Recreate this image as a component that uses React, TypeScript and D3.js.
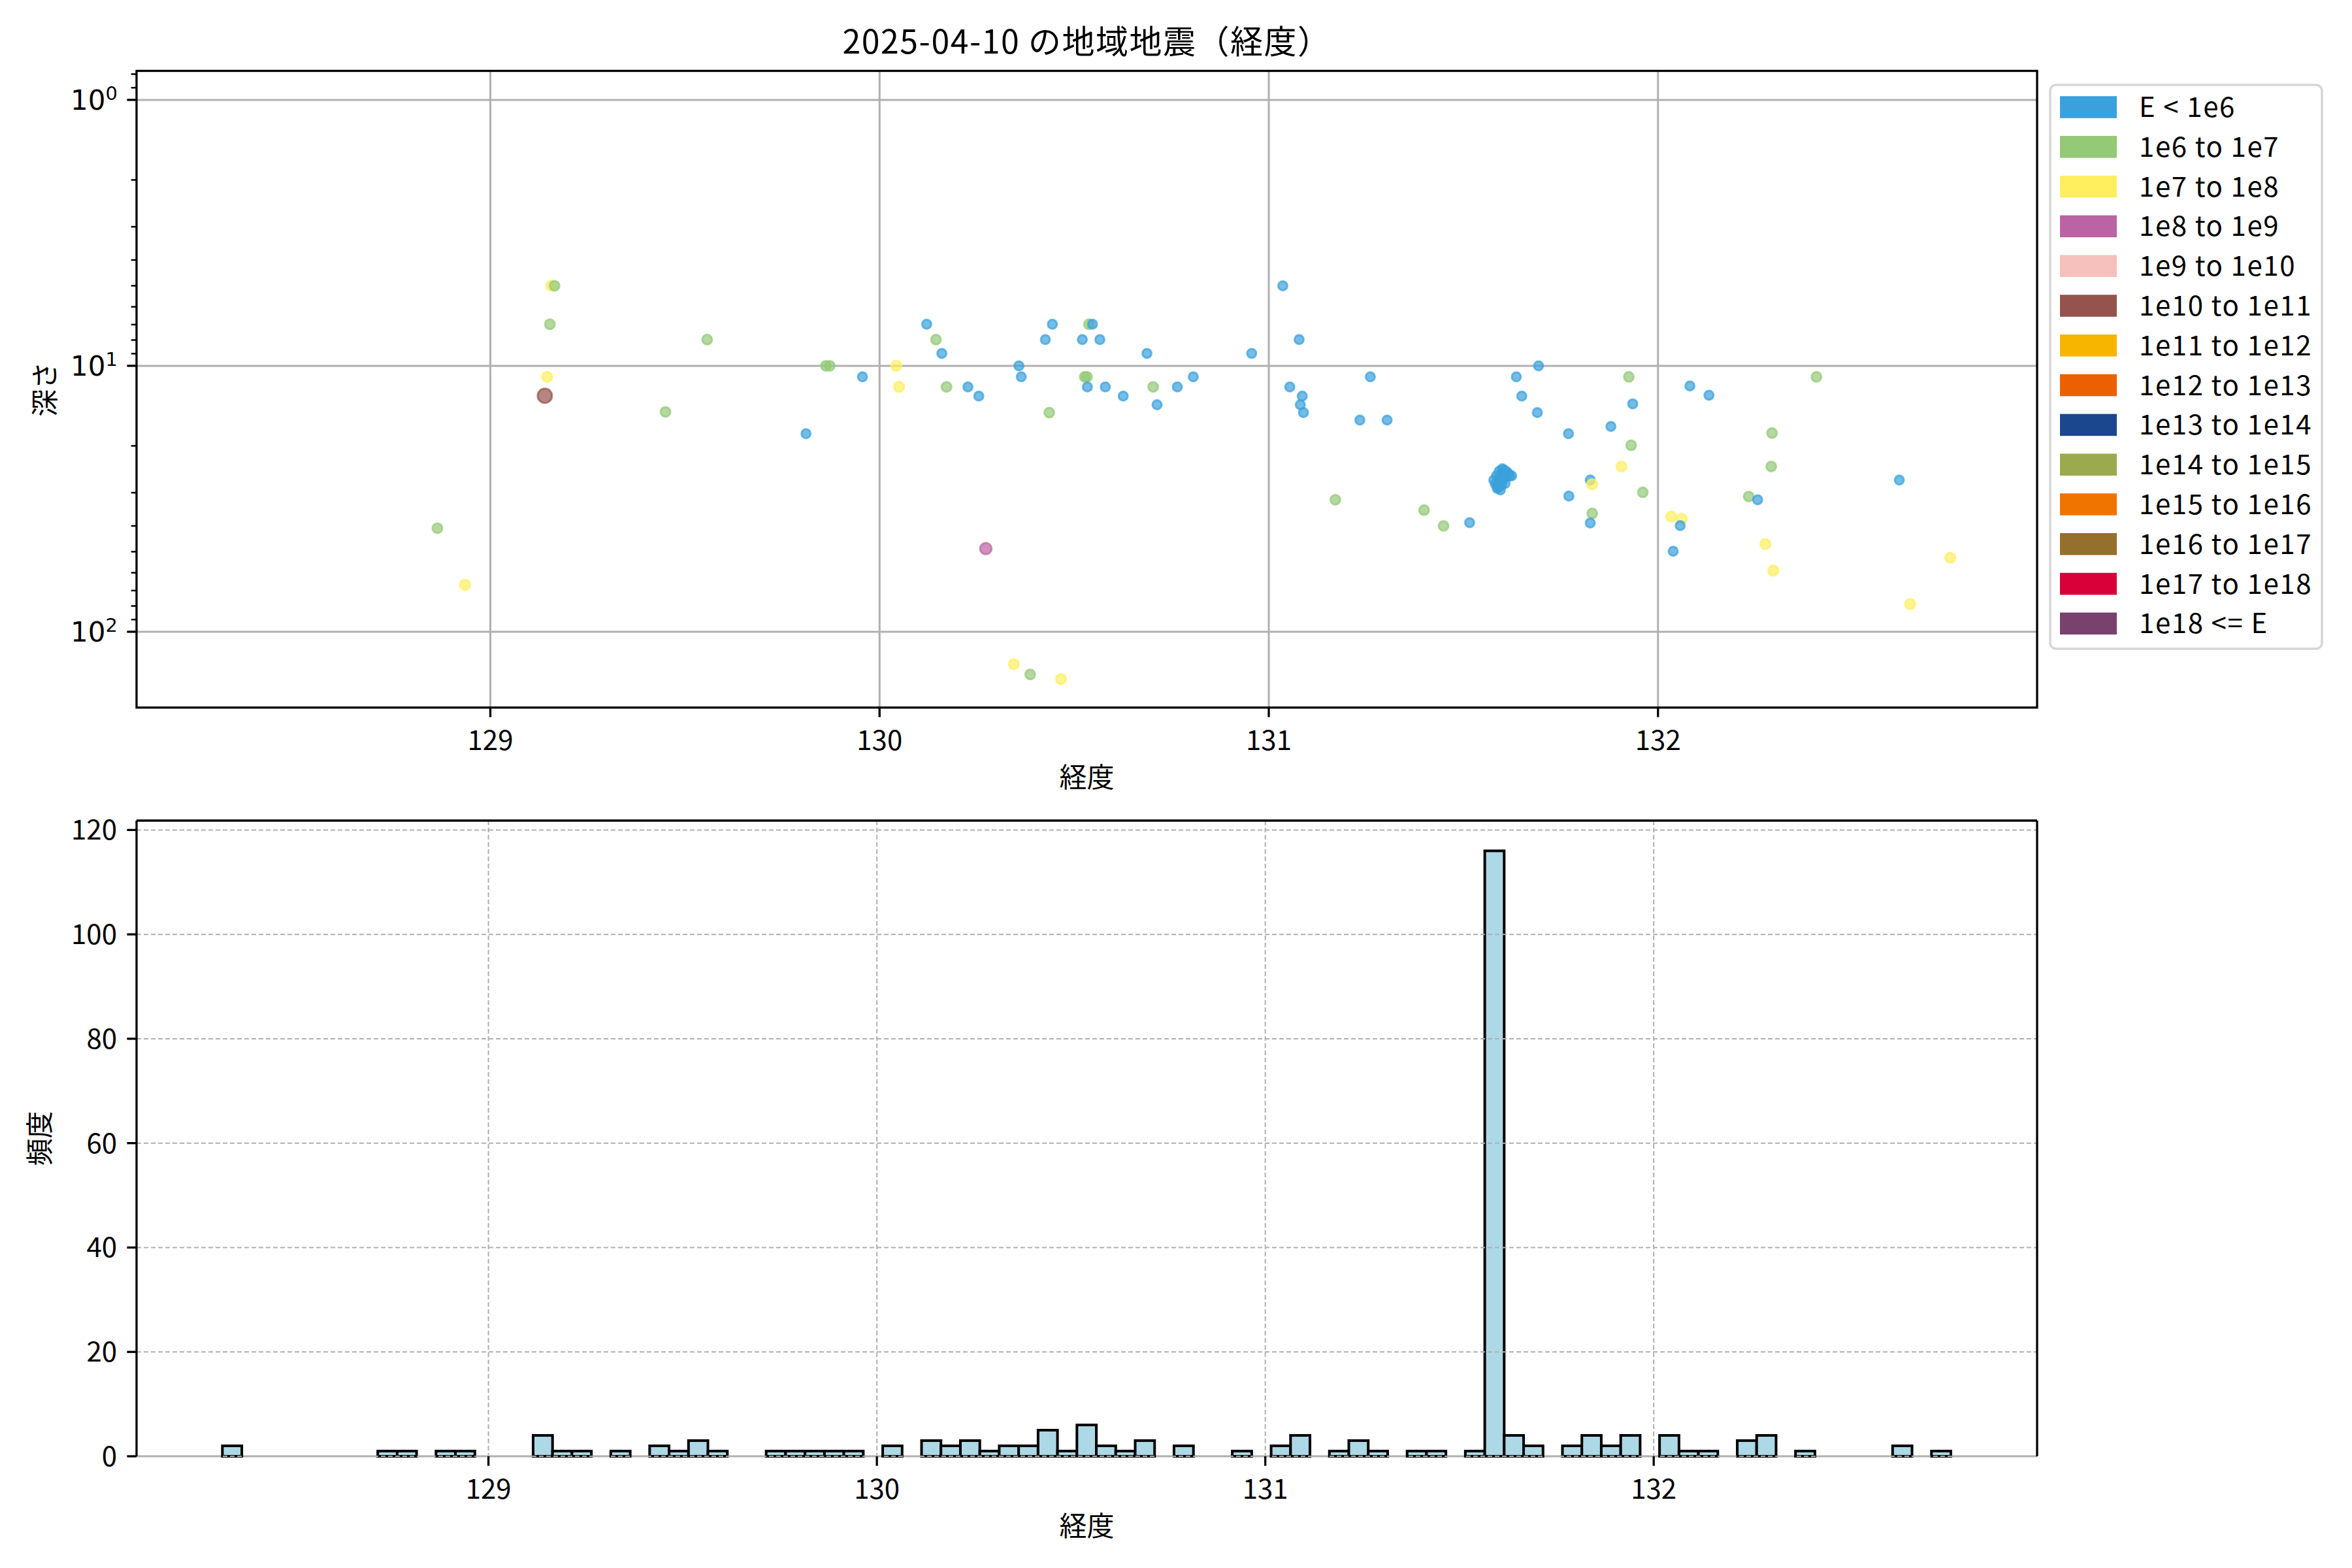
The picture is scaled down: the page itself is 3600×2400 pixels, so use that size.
import React from "react";
import * as d3 from "d3";

// ---------- DATA ----------
const energyLabels = [
  "E < 1e6", "1e6 to 1e7", "1e7 to 1e8", "1e8 to 1e9", "1e9 to 1e10",
  "1e10 to 1e11", "1e11 to 1e12", "1e12 to 1e13", "1e13 to 1e14",
  "1e14 to 1e15", "1e15 to 1e16", "1e16 to 1e17", "1e17 to 1e18", "1e18 <= E",
];
const energyColors = [
  "#3BA1DC", "#94C977", "#FFEF5F", "#BB64A3", "#F6C0BD", "#96524D", "#F7B500",
  "#EB6000", "#1B478E", "#9BAA4E", "#F07500", "#956F2C", "#D9003A", "#79416E",
];

// scatter events: longitude, depth (km), energy class index
const eqLon = [
  128.864, 128.935, 129.146, 129.153, 129.157, 129.165, 129.45, 129.557,
  129.811, 129.862, 129.872, 129.956, 130.043, 130.05, 130.121, 130.145,
  130.16, 130.172, 130.227, 130.255, 130.273, 130.345, 130.358, 130.364,
  130.387, 130.426, 130.436, 130.444, 130.466, 130.521, 130.527, 130.533,
  130.534, 130.538, 130.547, 130.566, 130.58, 130.626, 130.687, 130.703,
  130.713, 130.765, 130.806, 130.956, 131.036, 131.054, 131.078, 131.081,
  131.086, 131.089, 131.171, 131.234, 131.261, 131.304, 131.399, 131.449,
  131.516,
  131.593, 131.596,
  131.578, 131.582, 131.585, 131.588, 131.59, 131.592, 131.594, 131.595,
  131.597, 131.598, 131.6, 131.601, 131.603, 131.604, 131.606, 131.607,
  131.609, 131.611, 131.613, 131.616, 131.619, 131.624, 131.6, 131.587,
  131.636, 131.65, 131.69, 131.693, 131.77, 131.771, 131.826, 131.831,
  131.831, 131.826, 131.879, 131.906, 131.925, 131.935, 131.931, 131.961,
  132.034, 132.061, 132.057, 132.039, 132.082, 132.131, 132.233, 132.256,
  132.293, 132.291, 132.276, 132.296, 132.407, 132.62, 132.648, 132.751,
  129.14,
];
const eqDepth = [
  40.8, 66.6, 11.0, 6.98, 5.0, 5.0, 14.9, 7.97,
  18.0, 10.0, 10.0, 11.0, 10.0, 12.0, 6.98, 7.97,
  8.98, 12.0, 12.0, 13.0, 48.7, 132.5, 10.0, 11.0,
  144.7, 7.97, 15.0, 6.98, 150.5, 7.97, 11.0, 11.0,
  12.0, 6.98, 6.98, 7.97, 12.0, 13.0, 8.98, 12.0,
  14.0, 12.0, 11.0, 8.98, 5.0, 12.0, 7.97, 14.0,
  13.0, 15.0, 31.9, 16.0, 11.0, 16.0, 34.9, 40.0,
  38.9,
  28.4, 27.9,
  26.9, 27.8, 25.9, 28.6, 26.9, 24.9, 27.4, 29.3,
  26.1, 28.1, 25.3, 27.0, 24.6, 26.4, 25.1, 27.7,
  24.9, 25.8, 25.2, 25.5, 26.0, 25.9, 24.4, 28.9,
  11.0, 13.0, 15.0, 10.0, 18.0, 30.9, 26.9, 27.9,
  35.9, 39.0, 16.9, 23.9, 11.0, 13.9, 19.9, 29.9,
  36.9, 37.6, 39.9, 49.8, 11.9, 12.9, 31.0, 31.9,
  17.9, 23.9, 46.8, 58.9, 11.0, 26.9, 78.7, 52.7,
  12.96,
];
const eqClass = [
  1, 2, 2, 1, 2, 1, 1, 1,
  0, 1, 1, 0, 2, 2, 0, 1,
  0, 1, 0, 0, 3, 2, 0, 0,
  1, 0, 1, 0, 2, 0, 1, 1,
  0, 1, 0, 0, 0, 0, 0, 1,
  0, 0, 0, 0, 0, 0, 0, 0,
  0, 0, 1, 0, 0, 0, 1, 1,
  0,
  1, 2,
  0, 0, 0, 0, 0, 0, 0, 0,
  0, 0, 0, 0, 0, 0, 0, 0,
  0, 0, 0, 0, 0, 0, 0, 0,
  0, 0, 0, 0, 0, 0, 0, 2,
  1, 0, 0, 2, 1, 0, 1, 1,
  2, 2, 0, 0, 0, 0, 1, 0,
  1, 1, 2, 2, 1, 0, 2, 2,
  5,
];

// histogram of longitude (bin width 0.05 deg)
const histStart = 128.315;
const histBinWidth = 0.05;
const histCounts = [
  2, 0, 0, 0, 0, 0, 0, 0, 1, 1, 0, 1, 1, 0, 0, 0, 4, 1, 1, 0,
  1, 0, 2, 1, 3, 1, 0, 0, 1, 1, 1, 1, 1, 0, 2, 0, 3, 2, 3, 1,
  2, 2, 5, 1, 6, 2, 1, 3, 0, 2, 0, 0, 1, 0, 2, 4, 0, 1, 3, 1,
  0, 1, 1, 0, 1, 116, 4, 2, 0, 2, 4, 2, 4, 0, 4, 1, 1, 0, 3, 4,
  0, 1, 0, 0, 0, 0, 2, 0, 1,
];

const lonTicks = [129, 130, 131, 132];
const depthMajorTicks = [1, 10, 100];
const depthMinorTicks = [0.8, 0.9, 2, 3, 4, 5, 6, 7, 8, 9, 20, 30, 40, 50, 60, 70, 80, 90];
const freqTicks = [0, 20, 40, 60, 80, 100, 120];

const titleText = "2025-04-10 の地域地震（経度）";
const xLabel = "経度";
const yLabelTop = "深さ";
const yLabelBottom = "頻度";

// ---------- STYLE ----------
const W = 3600, H = 2400;
const FONT = "'Noto Sans CJK JP', 'Noto Sans', sans-serif";
const MATH = "'DejaVu Sans', sans-serif";
const FS = 42;
const SPINE = 3.3;
const TICK = 14.6;
const MINOR = 8.3;
const GRID = "#b0b0b0";
const classRadius = [7, 7.5, 7.8, 8.8, 9.5, 11, 11.5, 12, 12.5, 13, 13.5, 14, 14.5, 15];

const top = { l: 209, r: 3118, t: 108.5, b: 1083 };
const bot = { l: 209, r: 3118, t: 1256, b: 2229 };

export default function App() {
  const xTop = d3.scaleLinear().domain([128.091, 132.974]).range([top.l, top.r]);
  const yTop = d3.scaleLog().domain([0.778, 192.8]).range([top.t, top.b]);
  const xBot = d3.scaleLinear().domain([128.094, 132.987]).range([bot.l, bot.r]);
  const yBot = d3.scaleLinear().domain([0, 121.8]).range([bot.b, bot.t]);

  const points = eqLon.map((lon, i) => ({ lon, depth: eqDepth[i], cls: eqClass[i] }));
  const bins = histCounts.map((c, i) => ({
    x0: histStart + i * histBinWidth,
    x1: histStart + (i + 1) * histBinWidth,
    c,
  }));

  return (
    <svg
      width={W}
      height={H}
      viewBox={`0 0 ${W} ${H}`}
      style={{ position: "absolute", left: 0, top: 0, background: "#fff" }}
    >
      <rect x={0} y={0} width={W} height={H} fill="#fff" />
      {/* Title */}
      <text x={(top.l + top.r) / 2} y={82} textAnchor="middle" fontFamily={FONT} fontSize={50} letterSpacing={1.5}>
        {titleText}
      </text>

      {/* ---------- TOP SCATTER ---------- */}
      <g>
        {lonTicks.map((t) => (
          <line key={"gx" + t} x1={xTop(t)} x2={xTop(t)} y1={top.t} y2={top.b} stroke={GRID} strokeWidth={3} />
        ))}
        {depthMajorTicks.map((t) => (
          <line key={"gy" + t} x1={top.l} x2={top.r} y1={yTop(t)} y2={yTop(t)} stroke={GRID} strokeWidth={3} />
        ))}
        {points.map((p, i) => (
          <circle
            key={"p" + i}
            cx={xTop(p.lon)}
            cy={yTop(p.depth)}
            r={classRadius[p.cls]}
            fill={energyColors[p.cls]}
            fillOpacity={0.7}
            stroke={energyColors[p.cls]}
            strokeOpacity={0.7}
            strokeWidth={3}
          />
        ))}
        <rect x={top.l} y={top.t} width={top.r - top.l} height={top.b - top.t} fill="none" stroke="#000" strokeWidth={SPINE} />
        {lonTicks.map((t) => (
          <g key={"tx" + t}>
            <line x1={xTop(t)} x2={xTop(t)} y1={top.b} y2={top.b + TICK} stroke="#000" strokeWidth={SPINE} />
            <text x={xTop(t)} y={top.b + 65} textAnchor="middle" fontFamily={FONT} fontSize={FS}>
              {t}
            </text>
          </g>
        ))}
        {depthMajorTicks.map((t) => (
          <g key={"ty" + t}>
            <line x1={top.l - TICK} x2={top.l} y1={yTop(t)} y2={yTop(t)} stroke="#000" strokeWidth={SPINE} />
            <text x={180} y={yTop(t) + 15.5} textAnchor="end" fontFamily={MATH} fontSize={FS}>
              10
              <tspan dy={-15} fontSize={29}>
                {Math.round(Math.log10(t))}
              </tspan>
            </text>
          </g>
        ))}
        {depthMinorTicks.map((t) => (
          <line key={"my" + t} x1={top.l - MINOR} x2={top.l} y1={yTop(t)} y2={yTop(t)} stroke="#000" strokeWidth={2.5} />
        ))}
        <text x={(top.l + top.r) / 2} y={top.b + 122} textAnchor="middle" fontFamily={FONT} fontSize={FS}>
          {xLabel}
        </text>
        <text
          transform={`translate(${69 + 15},${(top.t + top.b) / 2}) rotate(-90)`}
          textAnchor="middle"
          fontFamily={FONT}
          fontSize={FS}
        >
          {yLabelTop}
        </text>
      </g>

      {/* Legend */}
      <g>
        <rect x={3138} y={130} width={416} height={863} rx={9} fill="#fff" fillOpacity={0.8} stroke="#d6d6d6" strokeWidth={3.5} />
        {energyLabels.map((lab, i) => {
          const cy = 164 + i * 60.8;
          return (
            <g key={"lg" + i}>
              <rect x={3153} y={cy - 16.8} width={87} height={33.6} fill={energyColors[i]} />
              <text x={3274} y={cy + 15} fontFamily={FONT} fontSize={FS} letterSpacing={1.6}>
                {lab}
              </text>
            </g>
          );
        })}
      </g>

      {/* ---------- BOTTOM HISTOGRAM ---------- */}
      <g>
        <line x1={bot.l} x2={bot.r} y1={bot.b} y2={bot.b} stroke={GRID} strokeWidth={3} />
        {bins.map((b, i) => (
          <rect
            key={"b" + i}
            x={xBot(b.x0)}
            y={yBot(b.c)}
            width={xBot(b.x1) - xBot(b.x0)}
            height={bot.b - yBot(b.c)}
            fill="#add8e6"
            stroke="#000"
            strokeWidth={4}
          />
        ))}
        {lonTicks.map((t) => (
          <line key={"bgx" + t} x1={xBot(t)} x2={xBot(t)} y1={bot.t} y2={bot.b} stroke={GRID} strokeWidth={2} strokeDasharray="7,4" />
        ))}
        {freqTicks.map((t) => (
          <line key={"bgy" + t} x1={bot.l} x2={bot.r} y1={yBot(t)} y2={yBot(t)} stroke={GRID} strokeWidth={2} strokeDasharray="7,4" />
        ))}
        <line x1={bot.l} x2={bot.l} y1={bot.t} y2={bot.b} stroke="#000" strokeWidth={SPINE} />
        <line x1={bot.r} x2={bot.r} y1={bot.t} y2={bot.b} stroke="#000" strokeWidth={SPINE} />
        <line x1={bot.l} x2={bot.r} y1={bot.t} y2={bot.t} stroke="#000" strokeWidth={SPINE} />
        {lonTicks.map((t) => (
          <g key={"btx" + t}>
            <line x1={xBot(t)} x2={xBot(t)} y1={bot.b} y2={bot.b + TICK} stroke="#000" strokeWidth={SPINE} />
            <text x={xBot(t)} y={bot.b + 65} textAnchor="middle" fontFamily={FONT} fontSize={FS}>
              {t}
            </text>
          </g>
        ))}
        {freqTicks.map((t) => (
          <g key={"bty" + t}>
            <line x1={bot.l - TICK} x2={bot.l} y1={yBot(t)} y2={yBot(t)} stroke="#000" strokeWidth={SPINE} />
            <text x={179} y={yBot(t) + 15} textAnchor="end" fontFamily={FONT} fontSize={FS}>
              {t}
            </text>
          </g>
        ))}
        <text x={(bot.l + bot.r) / 2} y={bot.b + 122} textAnchor="middle" fontFamily={FONT} fontSize={FS}>
          {xLabel}
        </text>
        <text
          transform={`translate(${61 + 15},${(bot.t + bot.b) / 2}) rotate(-90)`}
          textAnchor="middle"
          fontFamily={FONT}
          fontSize={FS}
        >
          {yLabelBottom}
        </text>
      </g>
    </svg>
  );
}
